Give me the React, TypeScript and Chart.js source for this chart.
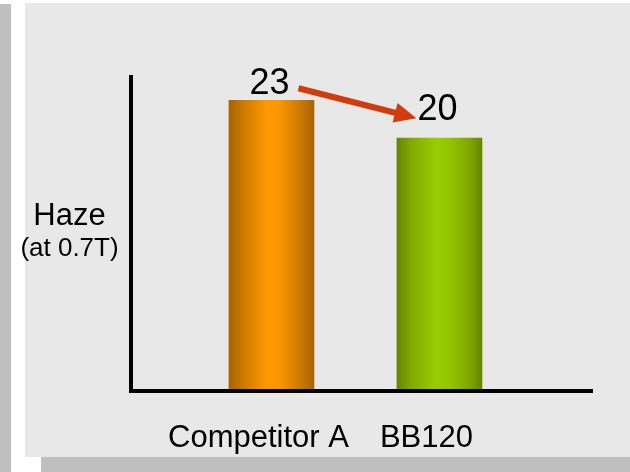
import React, { useEffect, useRef } from "react";
import { Chart, registerables } from "chart.js";

Chart.register(...registerables);

// ---- data ----
const categories = ["Competitor A", "BB120"];
const hazeValues = [23, 20];
const yAxisTitle = "Haze";
const yAxisSubtitle = "(at 0.7T)";
const yMin = 0;
const yMax = 25;

// ---- style ----
const FONT = "'Liberation Sans', Arial, Helvetica, sans-serif";
const BAR_W = 85;
const barStops: [number, string][][] = [
  [
    [0, "#a86400"],
    [0.15, "#c97800"],
    [0.45, "#ff9900"],
    [0.6, "#fa9600"],
    [0.85, "#c97800"],
    [1, "#a86400"],
  ],
  [
    [0, "#648600"],
    [0.15, "#7ea800"],
    [0.45, "#99cc00"],
    [0.6, "#95c700"],
    [0.85, "#7ea800"],
    [1, "#648600"],
  ],
];
const ARROW_COLOR = "#d23c0c";

const overlayPlugin = {
  id: "overlay",
  afterDatasetsDraw(chart: any, _args: any, opts: any) {
    const { ctx, chartArea: a, scales } = chart;
    const xs = scales.x;
    const ys = scales.y;
    ctx.save();

    // axis lines
    ctx.strokeStyle = "#000";
    ctx.lineWidth = 4;
    ctx.lineCap = "butt";
    ctx.beginPath();
    ctx.moveTo(a.left, a.top);
    ctx.lineTo(a.left, a.bottom + 2);
    ctx.moveTo(a.left - 2, a.bottom);
    ctx.lineTo(a.right, a.bottom);
    ctx.stroke();

    // category labels
    ctx.fillStyle = "#000";
    ctx.textAlign = "center";
    ctx.textBaseline = "alphabetic";
    ctx.font = `31px ${FONT}`;
    categories.forEach((c, i) => {
      const cx = xs.getPixelForValue(i + 1);
      ctx.fillText(c, cx + opts.catOffset, a.bottom + 56);
    });

    // y title
    const midY = (a.top + a.bottom) / 2;
    const tx = a.left - 61.5;
    ctx.font = `31px ${FONT}`;
    ctx.fillText(yAxisTitle, tx, midY - 8);
    ctx.font = `26px ${FONT}`;
    ctx.fillText(yAxisSubtitle, tx, midY + 23);

    // value labels
    ctx.font = `36px ${FONT}`;
    const boxes: { x: number; y: number; w: number }[] = [];
    hazeValues.forEach((v, i) => {
      const cx = xs.getPixelForValue(i + 1);
      const by = ys.getPixelForValue(v) - opts.lift[i];
      const txt = String(v);
      ctx.fillText(txt, cx - 2, by);
      boxes.push({ x: cx - 2, y: by, w: ctx.measureText(txt).width });
    });

    // arrow from first to second label
    if (boxes.length >= 2) {
      const sx = boxes[0].x + boxes[0].w / 2 + 9;
      const sy = boxes[0].y - 6;
      const ex = boxes[1].x - boxes[1].w / 2 - 1;
      const ey = boxes[1].y - 2;
      const ang = Math.atan2(ey - sy, ex - sx);
      const headL = 22;
      const headW = 10;
      const bx = ex - headL * Math.cos(ang);
      const by = ey - headL * Math.sin(ang);
      ctx.strokeStyle = ARROW_COLOR;
      ctx.fillStyle = ARROW_COLOR;
      ctx.lineWidth = 6;
      ctx.beginPath();
      ctx.moveTo(sx, sy);
      ctx.lineTo(bx + 2 * Math.cos(ang), by + 2 * Math.sin(ang));
      ctx.stroke();
      ctx.beginPath();
      ctx.moveTo(ex, ey);
      ctx.lineTo(bx - headW * Math.sin(ang), by + headW * Math.cos(ang));
      ctx.lineTo(bx + headW * Math.sin(ang), by - headW * Math.cos(ang));
      ctx.closePath();
      ctx.fill();
    }
    ctx.restore();
  },
};

export default function App() {
  const ref = useRef<HTMLCanvasElement | null>(null);

  useEffect(() => {
    if (!ref.current) return;
    const chart = new Chart(ref.current, {
      type: "bar",
      data: {
        datasets: [
          {
            data: categories.map((c, i) => ({ x: i + 1, y: hazeValues[i] })),
            barThickness: BAR_W,
            borderWidth: 0,
            backgroundColor: (ctx: any) => {
              const ch = ctx.chart;
              const xs = ch.scales?.x;
              const idx = ctx.dataIndex ?? 0;
              const stops = barStops[idx % barStops.length];
              if (!xs || ctx.type !== "data") return stops[2][1];
              const cx = xs.getPixelForValue(idx + 1);
              if (!Number.isFinite(cx)) return stops[2][1];
              const g = ch.ctx.createLinearGradient(cx - BAR_W / 2, 0, cx + BAR_W / 2, 0);
              stops.forEach(([o, c]) => g.addColorStop(o, c));
              return g;
            },
          } as any,
        ],
      },
      options: {
        animation: false,
        responsive: false,
        events: [],
        layout: { padding: { left: 131, right: 37, top: 75, bottom: 81 } },
        plugins: {
          legend: { display: false },
          tooltip: { enabled: false },
          overlay: { lift: [6, 18], catOffset: -13 },
        } as any,
        scales: {
          x: { type: "linear", min: 0.164, max: 2.914, offset: false, display: false },
          y: { min: yMin, max: yMax, display: false },
        },
      },
      plugins: [overlayPlugin as any],
    });
    return () => chart.destroy();
  }, []);

  return (
    <div
      style={{
        position: "fixed",
        left: 0,
        top: 0,
        width: 630,
        height: 472,
        background: "#ffffff",
        overflow: "hidden",
      }}
    >
      <div style={{ position: "absolute", left: 0, top: 4, width: 11, height: 468, background: "#bfbfbf" }} />
      <div style={{ position: "absolute", left: 41, top: 457, width: 589, height: 15, background: "#bfbfbf" }} />
      <div style={{ position: "absolute", left: 25, top: 3, width: 605, height: 454, background: "#e8e8e8" }} />
      <canvas
        ref={ref}
        width={630}
        height={472}
        style={{ position: "absolute", left: 0, top: 0, width: 630, height: 472 }}
      />
    </div>
  );
}
